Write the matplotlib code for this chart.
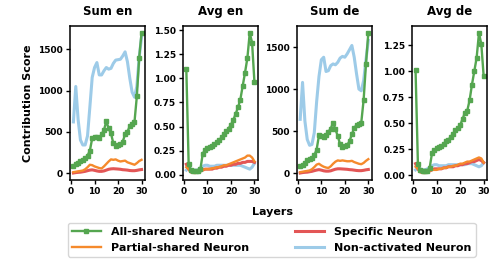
#!/usr/bin/env python3
import matplotlib
matplotlib.use("Agg")
import matplotlib.pyplot as plt
from matplotlib.ticker import MultipleLocator, FormatStrFormatter

plt.rcParams["font.family"] = "DejaVu Sans"
plt.rcParams["font.weight"] = "bold"
plt.rcParams["axes.labelweight"] = "bold"
plt.rcParams["axes.titleweight"] = "bold"

LAYERS = list(range(1, 31))
TITLES = ["Sum en", "Avg en", "Sum de", "Avg de"]
LABELS = ["All-shared Neuron", "Partial-shared Neuron", "Specific Neuron", "Non-activated Neuron"]
COLORS = ["#55a650", "#f58a2c", "#e35656", "#9dcbe8"]

# ---- Sum en ----
sum_en_all = [90, 110, 125, 150, 160, 180, 210, 270, 420, 440, 440, 430, 470, 520, 630,
              540, 480, 360, 330, 340, 350, 380, 470, 500, 570, 600, 620, 930, 1400, 1700]
sum_en_partial = [10, 15, 20, 25, 30, 45, 70, 100, 95, 80, 70, 60, 55, 80, 110,
                  140, 165, 160, 165, 150, 140, 145, 150, 130, 120, 110, 100, 120, 145, 160]
sum_en_specific = [0, 5, 8, 10, 15, 20, 28, 35, 38, 32, 25, 20, 20, 25, 35,
                   45, 50, 52, 50, 48, 45, 40, 38, 35, 30, 28, 28, 32, 38, 42]
sum_en_nonact = [620, 1050, 650, 400, 340, 340, 450, 800, 1160, 1280, 1340, 1190, 1190, 1240, 1280,
                 1260, 1270, 1330, 1370, 1375, 1380, 1420, 1470, 1350, 1150, 980, 920, 1050, 1400, 1650]

# ---- Avg en ----
avg_en_all = [1.10, 0.11, 0.05, 0.04, 0.04, 0.04, 0.06, 0.22, 0.26, 0.28, 0.29, 0.30, 0.32, 0.34, 0.36,
              0.39, 0.42, 0.45, 0.48, 0.52, 0.57, 0.63, 0.70, 0.78, 0.92, 1.06, 1.21, 1.47, 1.37, 0.96]
avg_en_partial = [0.08, 0.06, 0.03, 0.02, 0.02, 0.03, 0.04, 0.05, 0.06, 0.06, 0.06, 0.07, 0.07, 0.08, 0.08,
                  0.09, 0.10, 0.10, 0.11, 0.12, 0.13, 0.14, 0.15, 0.16, 0.17, 0.18, 0.20, 0.20, 0.18, 0.14]
avg_en_specific = [0.11, 0.06, 0.03, 0.03, 0.03, 0.03, 0.04, 0.05, 0.06, 0.06, 0.06, 0.06, 0.07, 0.07, 0.08,
                   0.08, 0.09, 0.09, 0.10, 0.10, 0.11, 0.11, 0.12, 0.12, 0.13, 0.13, 0.14, 0.14, 0.14, 0.13]
avg_en_nonact = [0.05, 0.08, 0.06, 0.05, 0.05, 0.05, 0.07, 0.09, 0.10, 0.10, 0.09, 0.09, 0.09, 0.10, 0.10,
                 0.10, 0.10, 0.10, 0.10, 0.10, 0.10, 0.10, 0.10, 0.10, 0.09, 0.08, 0.07, 0.06, 0.08, 0.12]

# ---- Sum de ----
sum_de_all = [80, 95, 125, 150, 165, 180, 210, 280, 450, 440, 430, 450, 490, 530, 600,
              520, 440, 340, 310, 320, 330, 380, 460, 540, 570, 580, 600, 870, 1300, 1670]
sum_de_partial = [10, 15, 20, 25, 30, 45, 70, 100, 110, 90, 75, 65, 60, 80, 110,
                  135, 150, 145, 150, 145, 140, 140, 145, 130, 120, 110, 105, 120, 145, 165]
sum_de_specific = [0, 5, 8, 10, 15, 20, 28, 35, 40, 34, 26, 22, 22, 26, 36,
                   45, 50, 50, 48, 46, 44, 40, 38, 34, 30, 28, 28, 32, 38, 42]
sum_de_nonact = [640, 1080, 620, 400, 330, 340, 480, 850, 1150, 1350, 1380, 1210, 1220, 1280, 1300,
                 1290, 1320, 1370, 1390, 1380, 1420, 1470, 1520, 1380, 1180, 1000, 980, 1100, 1350, 1580]

# ---- Avg de ----
avg_de_all = [1.01, 0.11, 0.05, 0.04, 0.04, 0.04, 0.07, 0.21, 0.24, 0.26, 0.27, 0.28, 0.30, 0.33, 0.34,
              0.37, 0.40, 0.43, 0.45, 0.48, 0.54, 0.60, 0.62, 0.72, 0.87, 1.00, 1.13, 1.37, 1.26, 0.95]
avg_de_partial = [0.08, 0.06, 0.03, 0.02, 0.02, 0.03, 0.04, 0.05, 0.05, 0.05, 0.06, 0.06, 0.07, 0.07, 0.08,
                  0.08, 0.09, 0.09, 0.10, 0.11, 0.11, 0.12, 0.13, 0.13, 0.14, 0.15, 0.16, 0.17, 0.16, 0.12]
avg_de_specific = [0.11, 0.06, 0.03, 0.03, 0.03, 0.03, 0.04, 0.05, 0.06, 0.06, 0.06, 0.06, 0.07, 0.07, 0.08,
                   0.08, 0.08, 0.09, 0.09, 0.10, 0.10, 0.11, 0.11, 0.12, 0.13, 0.13, 0.14, 0.15, 0.14, 0.12]
avg_de_nonact = [0.05, 0.07, 0.06, 0.05, 0.05, 0.06, 0.07, 0.09, 0.10, 0.10, 0.09, 0.09, 0.09, 0.09, 0.10,
                 0.10, 0.10, 0.10, 0.10, 0.10, 0.10, 0.10, 0.11, 0.11, 0.11, 0.10, 0.09, 0.08, 0.09, 0.12]

PANELS = [
    [sum_en_all, sum_en_partial, sum_en_specific, sum_en_nonact],
    [avg_en_all, avg_en_partial, avg_en_specific, avg_en_nonact],
    [sum_de_all, sum_de_partial, sum_de_specific, sum_de_nonact],
    [avg_de_all, avg_de_partial, avg_de_specific, avg_de_nonact],
]

LEFTS = [0.142, 0.371, 0.602, 0.836]


def main():
    fig = plt.figure(figsize=(4.93, 2.59), dpi=100)
    handles = []
    for i, (title, series) in enumerate(zip(TITLES, PANELS)):
        ax = fig.add_axes([LEFTS[i], 0.305, 0.152, 0.595])
        # draw order: non-activated, specific, partial, all-shared on top
        h_non, = ax.plot(LAYERS, series[3], color=COLORS[3], lw=2.2, label=LABELS[3])
        h_spec, = ax.plot(LAYERS, series[2], color=COLORS[2], lw=2.2, label=LABELS[2])
        h_part, = ax.plot(LAYERS, series[1], color=COLORS[1], lw=1.7, label=LABELS[1])
        h_all, = ax.plot(LAYERS, series[0], color=COLORS[0], lw=1.7, marker="s",
                         markersize=3.4, label=LABELS[0])
        if i == 0:
            handles = [h_all, h_part, h_spec, h_non]
        ax.set_title(title, fontsize=8.5, pad=8)
        ax.set_xticks([0, 10, 20, 30])
        if i % 2 == 0:
            ax.yaxis.set_major_locator(MultipleLocator(500))
        else:
            ax.yaxis.set_major_locator(MultipleLocator(0.25))
            ax.yaxis.set_major_formatter(FormatStrFormatter("%.2f"))
        ax.tick_params(labelsize=6.5, length=3, width=1, pad=2)
        for s in ax.spines.values():
            s.set_linewidth(1.1)
        if i == 0:
            ax.set_ylabel("Contribution Score", fontsize=8)

    fig.text(0.552, 0.18, "Layers", ha="center", va="center", fontsize=8, fontweight="bold")
    fig.legend(handles=handles, ncol=2, loc="lower center", bbox_to_anchor=(0.551, -0.012),
               fontsize=8, frameon=True, handlelength=2.6, columnspacing=4.2,
               labelspacing=0.55, borderpad=0.35, handletextpad=0.9)

    fig.savefig("out.png", dpi=100)


if __name__ == "__main__":
    main()
